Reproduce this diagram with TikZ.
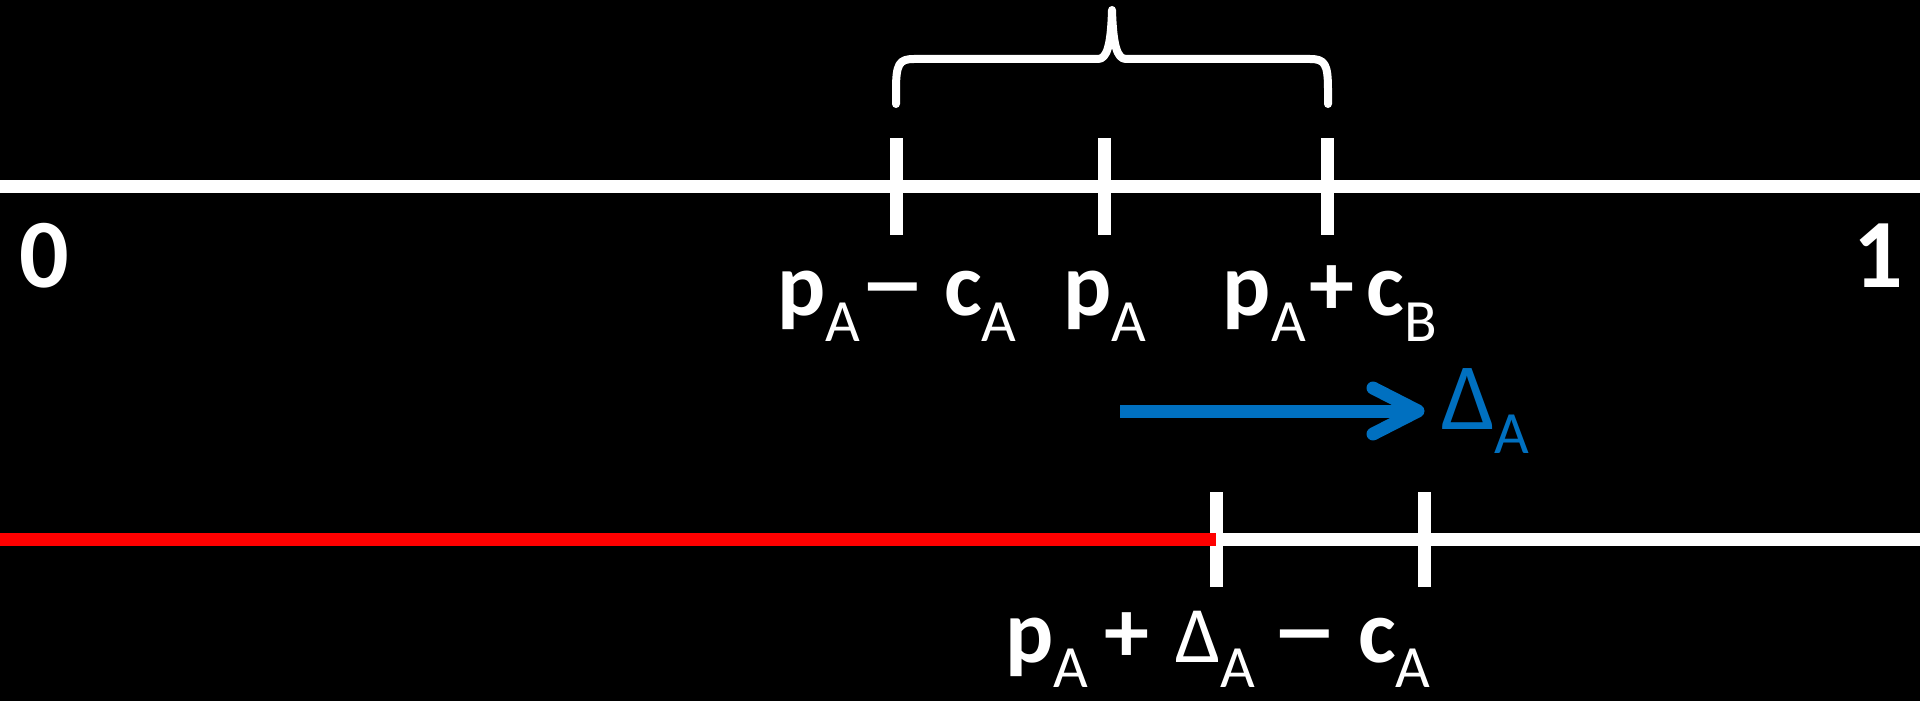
\documentclass[tikz,border=0pt]{standalone}
\usepackage{fontspec}
\usepackage{graphicx}
\setmainfont{Carlito}
\definecolor{arrowblue}{HTML}{0070C0}
\definecolor{linered}{HTML}{FF0000}
\newcommand{\subA}[2][26]{\raisebox{-#1pt}{\fontsize{60}{60}\selectfont\mdseries #2}}
\newcommand{\mns}{\scalebox{1.4}[1]{−}}
\begin{document}
\begin{tikzpicture}[x=1pt,y=-1pt,
  axisline/.style={line width=13pt,white},
  redline/.style={line width=13pt,linered},
  tickmark/.style={line width=13pt,white},
  bracepath/.style={line width=8pt,white,line cap=round,line join=round},
  shiftarrow/.style={line width=13pt,arrowblue,line cap=round,line join=round},
  lbl/.style={inner sep=0pt,outer sep=0pt,text=white,anchor=base,font=\fontsize{90}{100}\selectfont\bfseries},
  numlbl/.style={lbl,font=\fontsize{98}{110}\selectfont\bfseries}
]
\fill[black] (0,0) rectangle (1920,701);
\useasboundingbox (0,0) rectangle (1920,701);

% top number line
\coordinate (a0) at (0,186);
\coordinate (a1) at (1920,186);
\draw[axisline] (a0) -- (a1);
\foreach \n/\x in {lo/896, mid/1104, hi/1327}{
  \coordinate (\n top) at (\x,138);
  \coordinate (\n bot) at (\x,235);
  \draw[tickmark] (\n top) -- (\n bot);
}

% brace
\coordinate (bl) at (896,104);
\coordinate (br) at (1328,104);
\coordinate (btip) at (1112,10);
\draw[bracepath] (bl) -- (896,90) .. controls (896,64) and (899,59) .. (914,59) -- (1098,59)
  .. controls (1107,59) and (1111,45) .. (btip)
  .. controls (1113,45) and (1117,59) .. (1126,59) -- (1310,59)
  .. controls (1325,59) and (1328,64) .. (1328,90) -- (br);

% labels on top line
\node[numlbl] (zero) at (44,287) {0};
\node[numlbl] (one) at (1878,287) {1};
\node[lbl] (lab1) at (897,315) {p\subA{A}\hspace{1pt}\mns\hspace{20pt}c\subA{A}};
\node[lbl] (lab2) at (1105,315) {p\subA{A}};
\node[lbl] (lab3) at (1330,315) {p\subA{A}\hspace{4pt}+\hspace{12pt}c\subA{B}};

% shift arrow
\coordinate (sa) at (1120,411);
\coordinate (se) at (1416,411);
\coordinate (sh1) at (1373,388);
\coordinate (sh2) at (1373,434);
\draw[shiftarrow,line cap=butt] (sa) -- (se);
\draw[shiftarrow] (sh1) -- (1418,411) -- (sh2);
\node[lbl,anchor=base west,text=arrowblue,font=\fontsize{95}{100}\selectfont\mdseries] (delta) at (1441,429) {Δ\subA[24]{A}};

% bottom number line
\coordinate (b0) at (0,539);
\coordinate (bm) at (1216,539);
\coordinate (b1) at (1920,539);
\draw[axisline] (bm) -- (b1);
\foreach \n/\x in {blo/1216, bhi/1424}{
  \coordinate (\n top) at (\x,492);
  \coordinate (\n bot) at (\x,587);
  \draw[tickmark] (\n top) -- (\n bot);
}
\draw[redline] (b0) -- (bm);
\node[lbl] (lab4) at (1218,662) {p\subA[25]{A}\hspace{16pt}+\hspace{26pt}{\mdseries\fontsize{80}{80}\selectfont Δ}\subA[25]{A}\hspace{18pt}\mns\hspace{22pt}c\subA[25]{A}};
\end{tikzpicture}
\end{document}
